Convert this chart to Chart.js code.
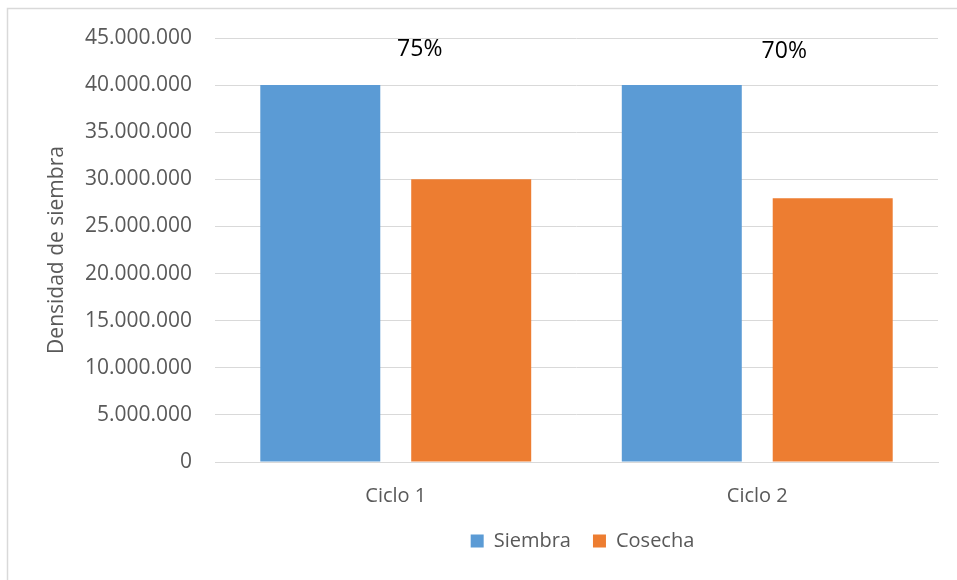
<!DOCTYPE html>
<html>
<head>
<meta charset="utf-8">
<script src="https://cdn.jsdelivr.net/npm/chart.js@4/dist/chart.umd.min.js"></script>
<style>
  html, body { margin: 0; padding: 0; background: #ffffff; }
  #wrap { width: 957px; height: 580px; position: relative; }
</style>
</head>
<body>
<div id="wrap"><canvas id="chart" width="957" height="580"></canvas></div>
<script>
// Seeding vs. harvest density per cycle
const categories = ['Ciclo 1', 'Ciclo 2'];
const siembra = [40000000, 40000000];
const cosecha = [30000000, 28000000];
const percentLabels = ['75%', '70%'];
const yTickLabels = ['0', '5.000.000', '10.000.000', '15.000.000', '20.000.000',
                     '25.000.000', '30.000.000', '35.000.000', '40.000.000', '45.000.000'];

const FONT = "'Open Sans', 'Noto Sans', sans-serif";
const GRID = '#d9d9d9';
const TEXT = '#595959';

// Outer frame (top and left edges), legend centring under the plot,
// and the percentage labels above each group
const decorations = {
  id: 'decorations',
  afterLayout(chart) {
    const lg = chart.legend;
    if (!lg) return;
    const area = chart.chartArea;
    const shift = (area.left + area.right) / 2 + 6 - (lg.left + lg.right) / 2;
    lg.left += shift;
    lg.right += shift;
  },
  beforeDraw(chart) {
    const ctx = chart.ctx;
    ctx.save();
    ctx.strokeStyle = GRID;
    ctx.lineWidth = 1.5;
    ctx.beginPath();
    ctx.moveTo(7.5, 580);
    ctx.lineTo(7.5, 8.5);
    ctx.lineTo(957, 8.5);
    ctx.stroke();
    ctx.restore();
  },
  afterDatasetsDraw(chart) {
    const ctx = chart.ctx;
    const x = chart.scales.x;
    const y = chart.scales.y;
    ctx.save();
    ctx.fillStyle = '#000000';
    ctx.font = "23px " + FONT;
    ctx.textAlign = 'center';
    ctx.textBaseline = 'middle';
    percentLabels.forEach((t, i) => {
      ctx.fillText(t, x.getPixelForValue(i) + 24 + i * 3, y.getPixelForValue(44000000) + 2 + i * 2);
    });
    ctx.restore();
  }
};

new Chart(document.getElementById('chart'), {
  type: 'bar',
  data: {
    labels: categories,
    datasets: [
      { label: 'Siembra', data: siembra, backgroundColor: '#5B9BD5' },
      { label: 'Cosecha', data: cosecha, backgroundColor: '#ED7D31' }
    ]
  },
  options: {
    responsive: false,
    animation: false,
    devicePixelRatio: 1,
    layout: { padding: { left: 44, right: 19, top: 38, bottom: 19 } },
    datasets: { bar: { categoryPercentage: 0.835, barPercentage: 0.795 } },
    plugins: {
      legend: {
        position: 'bottom',
        labels: {
          font: { family: FONT, size: 20 },
          color: TEXT,
          boxWidth: 13,
          boxHeight: 13,
          padding: 22
        }
      },
      tooltip: { enabled: false }
    },
    scales: {
      x: {
        grid: { display: false },
        border: { display: true, color: GRID },
        ticks: { font: { family: FONT, size: 20 }, color: TEXT, padding: 14 },
        afterFit(s) { s.height = 47; }
      },
      y: {
        min: 0,
        max: 45000000,
        ticks: {
          stepSize: 5000000,
          font: { family: FONT, size: 21 },
          color: TEXT,
          padding: 23,
          callback: (v, i) => yTickLabels[i]
        },
        grid: { color: GRID, drawTicks: false },
        border: { display: false },
        title: {
          display: true,
          text: 'Densidad de siembra',
          font: { family: FONT, size: 21 },
          color: TEXT,
          padding: { top: 0, bottom: 0 }
        },
        afterFit(s) { s.width = 171; }
      }
    }
  },
  plugins: [decorations]
});
</script>
</body>
</html>
